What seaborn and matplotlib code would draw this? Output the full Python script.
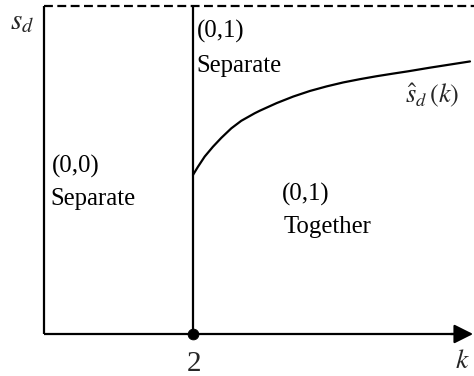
import matplotlib
matplotlib.use("Agg")
import matplotlib.pyplot as plt
import seaborn as sns
import pandas as pd

# Threshold curve s_hat_d(k) (k, s_d as fraction of s_d max)
k_vals = [2.0, 2.067, 2.157, 2.268, 2.38, 2.514, 2.648, 2.828, 2.899, 3.123,
          3.346, 3.57, 3.795, 4.017, 4.242, 4.466, 4.689, 4.89, 5.181, 5.718]
s_vals = [0.485, 0.51, 0.541, 0.571, 0.598, 0.627, 0.65, 0.673, 0.681, 0.704,
          0.724, 0.741, 0.755, 0.767, 0.777, 0.786, 0.794, 0.801, 0.812, 0.831]

k_threshold = 2.0
s_max = 1.0
k_max = 5.76

region_labels = ["(0,0)", "Separate", "(0,1)", "Separate", "(0,1)", "Together"]
region_x = [0.10, 0.08, 2.05, 2.05, 3.19, 3.21]
region_y = [0.492, 0.392, 0.903, 0.799, 0.407, 0.307]

sns.set_theme(style="white")
plt.rcParams["font.family"] = ["Liberation Serif", "DejaVu Serif"]
plt.rcParams["mathtext.fontset"] = "stix"

fig = plt.figure(figsize=(4.74, 3.76), dpi=100)
ax = fig.add_axes([0, 0, 1, 1])
ax.set_xlim(-44 / 74.5, 430 / 74.5)
ax.set_ylim(-42 / 328, 1 + 6 / 328)
ax.axis("off")

lw = 1.6
# left vertical boundary (y-axis)
ax.plot([0, 0], [0, s_max], color="black", lw=lw, solid_capstyle="butt")
# threshold vertical line at k=2
ax.plot([k_threshold, k_threshold], [0, s_max], color="black", lw=lw, solid_capstyle="butt")
# dashed upper bound
ax.plot([0, k_max + 0.05], [s_max, s_max], color="black", lw=lw, dashes=(4, 2))
# x-axis with arrow
ax.plot([0, k_max - 0.1], [0, 0], color="black", lw=lw, solid_capstyle="butt")
ax.annotate("", xy=(k_max, 0), xytext=(k_max - 0.3, 0),
            arrowprops=dict(arrowstyle="-|>,head_length=0.4,head_width=0.2",
                            mutation_scale=29, lw=lw, color="black",
                            shrinkA=0, shrinkB=0))

df = pd.DataFrame({"k": k_vals, "s": s_vals})
sns.lineplot(data=df, x="k", y="s", ax=ax, color="black", lw=lw, sort=True,
             solid_joinstyle="round", solid_capstyle="round")
sns.scatterplot(x=[k_threshold], y=[0], ax=ax, color="black", s=60, zorder=5, edgecolor="black")

fs = 17.8
for lab, x, y in zip(region_labels, region_x, region_y):
    ax.text(x, y, lab, fontsize=fs, ha="left", va="baseline", color="black")

ax.text(-0.456, 0.93, r"$s_d$", fontsize=21, ha="left", va="baseline")
ax.text(4.85, 0.702, r"$\hat{s}_d\,(k)$", fontsize=19, ha="left", va="baseline")
ax.text(2.01, -0.113, "2", fontsize=21, ha="center", va="baseline")
ax.text(5.72, -0.103, r"$k$", fontsize=20, ha="right", va="baseline")

fig.savefig("out.png", dpi=100)
